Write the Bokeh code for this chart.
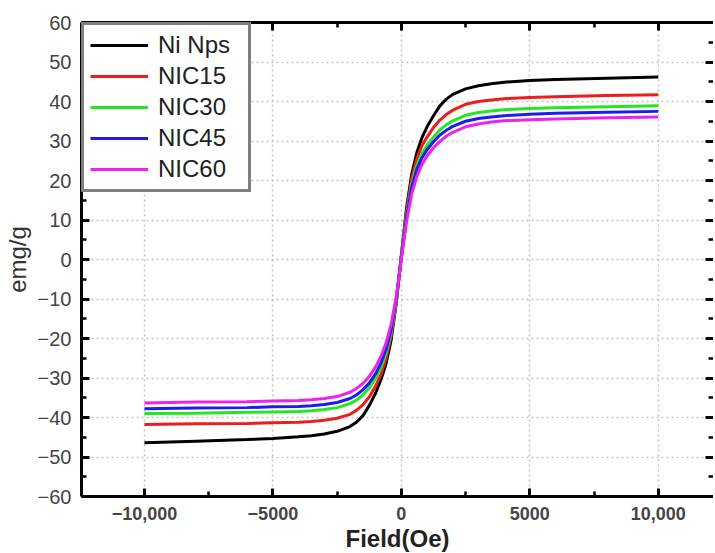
from bokeh.plotting import figure
from bokeh.models import FixedTicker, LinearAxis, Range1d, Legend, LegendItem, CustomJSTickFormatter
from bokeh.embed import file_html
from bokeh.resources import INLINE

# Applied field (Oe)
field = [-10000, -8000, -6000, -5000, -4000, -3500, -3000, -2500, -2000, -1750,
         -1500, -1250, -1000, -800, -600, -400, -200, 0, 200, 400, 600, 800,
         1000, 1250, 1500, 1750, 2000, 2500, 3000, 3500, 4000, 5000, 6000, 8000, 10000]

# Magnetization (emu/g) for each sample
ni_nps = [-46.4, -46.0, -45.6, -45.3, -44.9, -44.6, -44.2, -43.5, -42.3, -41.2,
          -39.6, -37.0, -33.8, -30.5, -26.5, -20.5, -11.0, 1.0, 13.0, 21.5, 27.0, 30.8,
          33.6, 36.4, 38.9, 40.6, 41.8, 43.2, 44.0, 44.5, 44.9, 45.3, 45.6, 45.9, 46.2]
nic15 = [-41.8, -41.6, -41.5, -41.3, -41.2, -41.0, -40.7, -40.2, -39.2, -38.2,
         -36.8, -34.8, -32.0, -29.2, -25.2, -19.5, -11.0, 1.0, 12.0, 20.5, 25.5, 28.8,
         31.0, 33.4, 35.3, 36.7, 37.8, 39.3, 40.0, 40.4, 40.7, 41.0, 41.2, 41.5, 41.7]
nic30 = [-39.0, -38.9, -38.7, -38.6, -38.5, -38.3, -38.0, -37.5, -36.5, -35.6,
         -34.3, -32.5, -30.1, -27.5, -23.8, -18.5, -10.5, 1.0, 11.0, 19.0, 23.8, 26.8,
         28.9, 31.0, 32.8, 34.1, 35.1, 36.5, 37.2, 37.6, 37.9, 38.2, 38.4, 38.7, 38.9]
nic45 = [-37.8, -37.6, -37.5, -37.3, -37.2, -37.0, -36.7, -36.2, -35.2, -34.3,
         -33.0, -31.3, -28.9, -26.3, -22.8, -17.8, -10.0, 0.5, 10.5, 18.2, 22.8, 25.7,
         27.8, 29.8, 31.5, 32.7, 33.7, 35.0, 35.7, 36.1, 36.4, 36.8, 37.0, 37.3, 37.5]
nic60 = [-36.3, -36.1, -36.0, -35.8, -35.7, -35.5, -35.2, -34.7, -33.6, -32.7,
         -31.4, -29.6, -27.2, -24.6, -21.2, -16.5, -9.5, 0.0, 9.5, 16.5, 21.0, 24.0,
         26.2, 28.3, 29.9, 31.2, 32.2, 33.6, 34.3, 34.8, 35.1, 35.4, 35.6, 35.9, 36.1]

series_names = ["Ni Nps", "NIC15", "NIC30", "NIC45", "NIC60"]
series_values = [ni_nps, nic15, nic30, nic45, nic60]
series_colors = ["#000000", "#ee1c1c", "#22e822", "#1c1cee", "#ee22ee"]

x_ticks = [-10000, -5000, 0, 5000, 10000]
x_tick_labels = ["\u221210,000", "\u22125000", "0", "5000", "10,000"]
x_minor = [-12500, -7500, -2500, 2500, 7500, 12500]
y_ticks = [-60, -50, -40, -30, -20, -10, 0, 10, 20, 30, 40, 50, 60]
y_tick_labels = ["\u221260", "\u221250", "\u221240", "\u221230", "\u221220", "\u221210",
                 "0", "10", "20", "30", "40", "50", "60"]
y_minor = [-55, -45, -35, -25, -15, -5, 5, 15, 25, 35, 45, 55]

FONT = "Liberation Sans"

p = figure(frame_width=632, frame_height=474,
           x_range=Range1d(-12450, 12150), y_range=Range1d(-60, 60),
           output_backend="svg", toolbar_location=None,
           min_border_left=76, min_border_right=0, min_border_top=22, min_border_bottom=50)
p.outline_line_color = None
p.background_fill_color = "white"

xt = FixedTicker(ticks=x_ticks, minor_ticks=x_minor)
yt = FixedTicker(ticks=y_ticks, minor_ticks=y_minor)

def style_axis(ax):
    ax.axis_line_width = 3
    ax.axis_line_color = "black"
    ax.major_tick_in = 8
    ax.major_tick_out = 0
    ax.major_tick_line_width = 3
    ax.major_tick_line_color = "black"
    ax.minor_tick_in = 5
    ax.minor_tick_out = 0
    ax.minor_tick_line_width = 2.5
    ax.minor_tick_line_color = "black"

xa = p.xaxis[0]
xa.ticker = xt
xa.major_label_overrides = {t: l for t, l in zip(x_ticks, x_tick_labels)}
style_axis(xa)
xa.major_label_text_font = FONT
xa.major_label_text_font_size = "18px"
xa.major_label_text_font_style = "bold"
xa.major_label_text_color = "#444444"
xa.major_label_standoff = 10
xa.axis_label = "Field(Oe)"
xa.axis_label_text_font = FONT
xa.axis_label_text_font_size = "24px"
xa.axis_label_text_font_style = "bold"
xa.axis_label_text_color = "#222222"
xa.axis_label_standoff = 2

ya = p.yaxis[0]
ya.ticker = yt
ya.major_label_overrides = {t: l for t, l in zip(y_ticks, y_tick_labels)}
style_axis(ya)
ya.major_label_text_font = FONT
ya.major_label_text_font_size = "20px"
ya.major_label_text_color = "#444444"
ya.major_label_standoff = 10
ya.axis_label = "emg/g"
ya.axis_label_text_font = FONT
ya.axis_label_text_font_size = "24px"
ya.axis_label_text_font_style = "normal"
ya.axis_label_text_color = "#333333"
ya.axis_label_standoff = 4

blank = CustomJSTickFormatter(code="return '';")
top = LinearAxis(ticker=xt, formatter=blank, major_label_standoff=0)
style_axis(top)
p.add_layout(top, "above")
right = LinearAxis(ticker=yt, formatter=blank, major_label_standoff=0)
style_axis(right)
right.axis_line_color = None
p.add_layout(right, "right")

p.xgrid.ticker = FixedTicker(ticks=x_ticks)
p.ygrid.ticker = FixedTicker(ticks=y_ticks[1:-1])
for g in (p.xgrid[0], p.ygrid[0]):
    g.grid_line_color = "#c4c4c4"
    g.grid_line_dash = "2 3"
    g.grid_line_width = 1.5

items = []
for name, vals, col in zip(series_names, series_values, series_colors):
    r = p.line(field, vals, line_color=col, line_width=3)
    items.append(LegendItem(label=name, renderers=[r]))

legend = Legend(items=items, location="top_left", margin=0, padding=6, spacing=3,
                label_height=28, glyph_height=28, glyph_width=58, label_standoff=10,
                label_width=84, border_line_width=3, border_line_color="black",
                background_fill_color="white", background_fill_alpha=1.0,
                label_text_font=FONT, label_text_font_size="24px", label_text_color="#222222")
p.add_layout(legend)

open("out.html", "w").write(file_html(p, INLINE))
